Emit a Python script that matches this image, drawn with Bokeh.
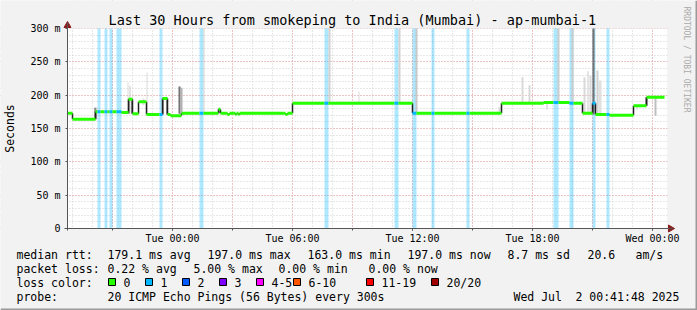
import math
import pandas as pd
from bokeh.plotting import figure
from bokeh.models import FixedTicker, DatetimeTickFormatter, Range1d
from bokeh.core.properties import value
from bokeh.embed import file_html
from bokeh.resources import INLINE

# ---------------- data ----------------
graph_start = "2025-06-30 18:45"
graph_end = "2025-07-02 00:45"

# median rtt steps (start times; last entry is end of data)
step_times = [
    "2025-06-30 18:45", "2025-06-30 19:00", "2025-06-30 20:09", "2025-06-30 20:15",
    "2025-06-30 20:24", "2025-06-30 20:36", "2025-06-30 20:45", "2025-06-30 20:51",
    "2025-06-30 21:00", "2025-06-30 21:12", "2025-06-30 21:27", "2025-06-30 21:48",
    "2025-06-30 22:00", "2025-06-30 22:18", "2025-06-30 22:42", "2025-06-30 23:21",
    "2025-06-30 23:30", "2025-06-30 23:45", "2025-06-30 23:54", "2025-07-01 00:27",
    "2025-07-01 01:21", "2025-07-01 01:33", "2025-07-01 02:18", "2025-07-01 02:24",
    "2025-07-01 02:45", "2025-07-01 02:51", "2025-07-01 03:09", "2025-07-01 03:12",
    "2025-07-01 03:18", "2025-07-01 03:21", "2025-07-01 05:39", "2025-07-01 05:45",
    "2025-07-01 06:00", "2025-07-01 07:36", "2025-07-01 07:48", "2025-07-01 11:06",
    "2025-07-01 11:18", "2025-07-01 12:00", "2025-07-01 12:12", "2025-07-01 12:57",
    "2025-07-01 13:06", "2025-07-01 14:42", "2025-07-01 14:51", "2025-07-01 16:27",
    "2025-07-01 18:33", "2025-07-01 19:03", "2025-07-01 19:18", "2025-07-01 19:51",
    "2025-07-01 20:03", "2025-07-01 20:30", "2025-07-01 21:00", "2025-07-01 21:09",
    "2025-07-01 21:42", "2025-07-01 21:51", "2025-07-01 23:03", "2025-07-01 23:42",
    "2025-07-02 00:36",
]
step_rtt = [
    173, 164, 175, 175, 175, 175, 175, 175, 175, 175, 174, 194,
    172, 190, 171, 171, 195, 171, 169, 173, 173, 173, 179, 173,
    171, 173, 171, 173, 171, 173, 171, 173, 188, 188, 188, 188,
    188, 173, 173, 173, 173, 173, 173, 188, 189, 189, 189, 188,
    188, 173, 188, 171, 171, 170, 184, 197,
]
step_loss = [
    0, 0, 0, 1, 0, 1, 0, 1, 0, 1, 0, 0,
    0, 0, 0, 1, 0, 0, 0, 0, 1, 0, 0, 0,
    0, 0, 0, 0, 0, 0, 0, 0, 0, 1, 0, 1,
    0, 1, 0, 1, 0, 1, 0, 0, 0, 1, 0, 1,
    0, 0, 1, 0, 1, 0, 0, 0,
]

# smoke (spread of the individual pings)
smoke_start = ["2025-06-30 20:06", "2025-06-30 20:09", "2025-06-30 21:45", "2025-06-30 21:48",
               "2025-06-30 21:51", "2025-06-30 21:57", "2025-06-30 22:30", "2025-06-30 22:42",
               "2025-06-30 23:30", "2025-06-30 23:42", "2025-07-01 00:18", "2025-07-01 00:24",
               "2025-07-01 01:33", "2025-07-01 02:18", "2025-07-01 07:48", "2025-07-01 09:18",
               "2025-07-01 11:18", "2025-07-01 12:09", "2025-07-01 16:18", "2025-07-01 17:27",
               "2025-07-01 17:48", "2025-07-01 18:42", "2025-07-01 19:15", "2025-07-01 19:57",
               "2025-07-01 20:33", "2025-07-01 20:45", "2025-07-01 20:51", "2025-07-01 21:00",
               "2025-07-01 21:12", "2025-07-01 21:18", "2025-07-01 23:12", "2025-07-01 23:39",
               "2025-07-02 00:06"]
smoke_end = ["2025-06-30 20:12", "2025-06-30 20:15", "2025-06-30 21:48", "2025-06-30 21:51",
             "2025-06-30 21:54", "2025-06-30 22:00", "2025-06-30 22:36", "2025-06-30 22:45",
             "2025-06-30 23:33", "2025-06-30 23:45", "2025-07-01 00:24", "2025-07-01 00:30",
             "2025-07-01 01:36", "2025-07-01 02:21", "2025-07-01 07:54", "2025-07-01 09:21",
             "2025-07-01 11:24", "2025-07-01 12:15", "2025-07-01 16:24", "2025-07-01 17:33",
             "2025-07-01 17:54", "2025-07-01 18:45", "2025-07-01 19:21", "2025-07-01 20:03",
             "2025-07-01 20:39", "2025-07-01 20:48", "2025-07-01 20:57", "2025-07-01 21:06",
             "2025-07-01 21:18", "2025-07-01 21:27", "2025-07-01 23:15", "2025-07-01 23:45",
             "2025-07-02 00:12"]
smoke_lo = [164, 175, 172, 172, 172, 172, 185, 171, 171, 171, 172, 172,
            173, 173, 188, 188, 188, 173, 173, 188, 188, 178, 189, 188,
            173, 173, 173, 171, 171, 171, 178, 184, 169]
smoke_hi = [181, 181, 219, 195, 214, 195, 195, 234, 195, 195, 213, 211,
            300, 180, 300, 205, 300, 300, 182, 227, 215, 189, 300, 300,
            227, 236, 229, 300, 237, 222, 184, 197, 197]
smoke_density = [0.7, 0.2, 0.15, 0.85, 0.2, 0.85, 0.12, 0.15, 0.8, 0.8, 0.55, 0.3,
                 0.18, 0.8, 0.18, 0.15, 0.18, 0.22, 0.15, 0.15, 0.15, 0.2, 0.2, 0.2,
                 0.15, 0.2, 0.15, 0.55, 0.18, 0.12, 0.2, 0.6, 0.25]

y_ticks = [0, 50, 100, 150, 200, 250, 300]
y_tick_labels = ["0", "50 m", "100 m", "150 m", "200 m", "250 m", "300 m"]
x_tick_times = ["2025-07-01 00:00", "2025-07-01 06:00", "2025-07-01 12:00",
                "2025-07-01 18:00", "2025-07-02 00:00"]
x_tick_labels = ["Tue 00:00", "Tue 06:00", "Tue 12:00", "Tue 18:00", "Wed 00:00"]

title = "Last 30 Hours from smokeping to India (Mumbai) - ap-mumbai-1"
y_label = "Seconds"
watermark = "RRDTOOL / TOBI OETIKER"
legend_rows = [
    ["median rtt:", "179.1 ms avg", "197.0 ms max", "163.0 ms min", "197.0 ms now",
     "8.7 ms sd", "20.6", "am/s"],
    ["packet loss:", "0.22 % avg", "5.00 % max", "0.00 % min", "0.00 % now"],
    ["probe:", "20 ICMP Echo Pings (56 Bytes) every 300s", "Wed Jul", "2 00:41:48 2025"],
]
loss_title = "loss color:"
loss_labels = ["0", "1", "2", "3", "4-5", "6-10", "11-19", "20/20"]
loss_colors = ["#26ff00", "#00b8ff", "#0059ff", "#7e00ff", "#ff00ff", "#ff5500", "#ff0000", "#a10000"]


def ms(s):
    return pd.Timestamp(s).value // 10**6


# ---------------- layout (canvas pixels) ----------------
W, H = 697, 310
CL, CT, CW, CH = 67, 28, 600, 200          # chart canvas left/top/width/height
t0, t1 = ms(graph_start), ms(graph_end)
mpp = (t1 - t0) / CW                       # ms per pixel
vpp = 300.0 / CH                           # value per pixel


def X(px):
    return t0 + (px - CL) * mpp


def Y(py):
    return (CT + CH - py) * vpp


BG = "#f2f2f2"
MONO = "DejaVu Sans Mono"

p = figure(width=W, height=H, x_axis_type="datetime",
           x_range=Range1d(X(0), X(W)), y_range=Range1d(Y(H), Y(0)),
           output_backend="svg", toolbar_location=None,
           min_border=0, min_border_left=0, min_border_right=0,
           min_border_top=0, min_border_bottom=0,
           background_fill_color=BG, border_fill_color=BG,
           outline_line_color=None)

# white chart canvas under the grid
p.quad(left=[t0], right=[t1], bottom=[0], top=[300], fill_color="white",
       line_color=None, level="image")

# y axis
p.yaxis.fixed_location = t0
p.yaxis.bounds = (Y(CT + CH + 2), Y(22))
p.yaxis.ticker = FixedTicker(ticks=y_ticks, minor_ticks=[])
p.yaxis.major_label_overrides = {t: l for t, l in zip(y_ticks, y_tick_labels)}
p.ygrid.ticker = FixedTicker(ticks=y_ticks, minor_ticks=list(range(0, 301, 10)))

# x axis
hour = 3600 * 1000
x_major = [ms(s) for s in x_tick_times]
x3 = list(range(ms("2025-06-30 21:00"), t1 + 1, 3 * hour))
x1 = list(range(ms("2025-06-30 19:00"), t1 + 1, hour))
p.xaxis.fixed_location = 0
p.xaxis.bounds = (X(CL - 3), X(CL + CW + 5))
p.xaxis.ticker = FixedTicker(ticks=x_major, minor_ticks=x3)
p.xaxis.formatter = DatetimeTickFormatter(hours="%a %H:%M", hourmin="%a %H:%M",
                                          days="%a %H:%M", minutes="%a %H:%M",
                                          minsec="%a %H:%M")
p.xaxis.major_label_overrides = {t: l for t, l in zip(x_major, x_tick_labels)}
p.xgrid.ticker = FixedTicker(ticks=x3, minor_ticks=x1)

for ax in (p.xaxis, p.yaxis):
    ax.axis_line_color = "#555555"
    ax.major_tick_line_color = "#555555"
    ax.minor_tick_line_color = "#555555"
    ax.major_tick_in = 0
    ax.minor_tick_in = 0
    ax.major_label_text_font = MONO
    ax.major_label_text_font_size = "10px"
    ax.major_label_text_color = "#000000"
p.yaxis.major_tick_out = 2
p.yaxis.minor_tick_out = 0
p.yaxis.major_label_standoff = 5
p.xaxis.major_tick_out = 2
p.xaxis.minor_tick_out = 2
p.xaxis.major_label_standoff = 2

for g in (p.xgrid, p.ygrid):
    g.grid_line_color = "#f0a0a0"
    g.grid_line_dash = "1 2"
    g.minor_grid_line_color = "#d0d0d0"
    g.minor_grid_line_dash = "1 2"

# masks hiding the grid outside the chart canvas
p.quad(left=[X(0), t1, t0, t0], right=[t0, X(W), t1, t1],
       bottom=[Y(H), Y(H), 300, Y(H)], top=[Y(0), Y(0), Y(0), 0],
       fill_color=BG, line_color=None)

# loss bars (derived from steps with loss)
lb_left, lb_right, lb_color = [], [], []
for i, l in enumerate(step_loss):
    if l > 0:
        lb_left.append(ms(step_times[i]))
        lb_right.append(ms(step_times[i + 1]))
        lb_color.append(loss_colors[min(l, 7)])
p.quad(left=lb_left, right=lb_right, bottom=0, top=300, fill_color=lb_color,
       fill_alpha=0.32, line_color=None)


# smoke
def gray(d):
    v = int(round(255 * (1 - d)))
    return "#%02x%02x%02x" % (v, v, v)


p.quad(left=[ms(s) for s in smoke_start], right=[ms(s) for s in smoke_end],
       bottom=smoke_lo, top=smoke_hi, fill_color=[gray(d) for d in smoke_density],
       line_color=None)

# median: vertical connectors then coloured horizontal steps
tx = [ms(s) for s in step_times]
n = len(step_rtt)
p.segment(x0=tx[1:n], y0=step_rtt[:n - 1], x1=tx[1:n], y1=step_rtt[1:n],
          line_color="#202020", line_width=1.5)
p.segment(x0=tx[:n], y0=step_rtt, x1=tx[1:n + 1], y1=step_rtt,
          line_color=[loss_colors[min(l, 7)] for l in step_loss], line_width=3)

# axis arrow heads
ARROW = "#8b1c1c"
p.scatter(x=[t0], y=[Y(25)], marker="triangle", size=7, fill_color=ARROW, line_color=ARROW)
p.scatter(x=[X(CL + CW + 3)], y=[0], marker="triangle", angle=-math.pi / 2, size=7,
          fill_color=ARROW, line_color=ARROW)

# canvas shade (bottom / right)
p.quad(left=[X(0), X(W - 2)], right=[X(W), X(W)], bottom=[Y(H), Y(H)], top=[Y(H - 2), Y(0)],
       fill_color="#9a9a9a", line_color=None)


# ---------------- texts ----------------
def txt(px, py, text, size="11.5px", align="left", angle=0.0, color="#000000"):
    p.text(x=[X(px)], y=[Y(py)], text=[text], text_font=value(MONO), text_font_size=size,
           text_align=align, text_baseline="middle", angle=angle, text_color=color)


txt(108, 19, title, size="13.5px")
txt(9, 128, y_label, size="11.5px", align="center", angle=math.pi / 2)
txt(686, 59, watermark, size="8px", align="center", angle=-math.pi / 2, color="#aaaaaa")

row_y = [254, 268, 296]
row_x = [
    [16, 107, 207, 307, 407, 507, 587, 635],
    [16, 107, 193, 278, 368],
    [16, 107, 513, 575],
]
for yy, xs, texts in zip(row_y, row_x, legend_rows):
    for xx, tt in zip(xs, texts):
        txt(xx, yy, tt)

txt(16, 282, loss_title)
box_x = [108, 145, 182, 219, 256, 293, 366, 431]
p.quad(left=[X(b) for b in box_x], right=[X(b + 7) for b in box_x],
       top=Y(278), bottom=Y(285), fill_color=loss_colors, line_color="#000000", line_width=1)
for bx, lbl in zip(box_x, loss_labels):
    txt(bx + 15, 282, lbl)

open("out.html", "w").write(file_html(p, INLINE))
